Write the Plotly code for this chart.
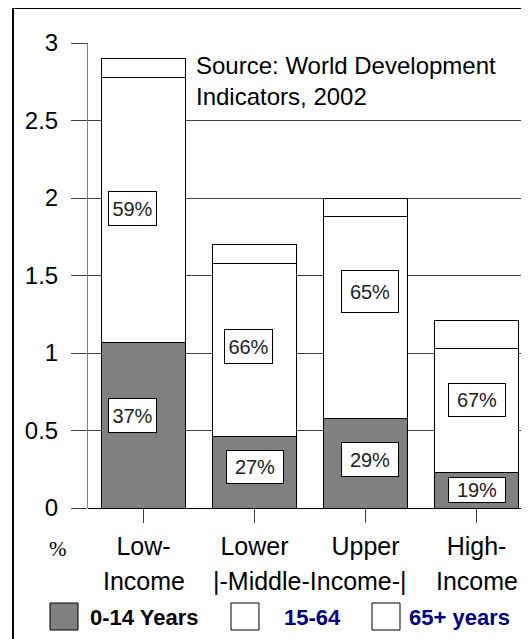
import plotly.graph_objects as go

# ---- data ----
categories = ["Low-Income", "Lower-Middle-Income", "Upper-Middle-Income", "High-Income"]
tick_line1 = ["Low-", "Lower", "Upper", "High-"]
tick_line2 = ["Income", "", "", "Income"]
age_0_14 = [1.07, 0.46, 0.58, 0.23]
age_15_64 = [1.71, 1.12, 1.30, 0.80]
age_65 = [0.12, 0.12, 0.12, 0.18]
share_0_14 = ["37%", "27%", "29%", "19%"]
share_15_64 = ["59%", "66%", "65%", "67%"]
y_ticks = [0, 0.5, 1, 1.5, 2, 2.5, 3]
y_tick_text = ["0", "0.5", "1", "1.5", "2", "2.5", "3"]
source_lines = ["Source: World Development", "Indicators, 2002"]

# label box layout (positions in data units, sizes in px)
lab15_pos = [(-0.10, 1.93, 49, 35), (0.95, 1.04, 49, 35), (2.04, 1.40, 58, 43), (3.0, 0.70, 58, 34)]
lab014_pos = [(-0.10, 0.60, 49, 35), (1.0, 0.265, 58, 34), (2.04, 0.31, 58, 35), (3.0, 0.115, 58, 26)]

OFF = 8  # page body margin
W, H = 529 - OFF, 639 - OFF
L, T = 88 - OFF, 43 - OFF
B = H - (508 - OFF)
R = 0
pw, ph = W - L - R, H - T - B

def px(x):
    return (x - OFF - L) / pw

def py(y):
    return (H - B - (y - OFF)) / ph

xs = list(range(len(categories)))
fig = go.Figure()
common = dict(width=0.76, marker_line_color="black", marker_line_width=1, showlegend=False)
fig.add_trace(go.Bar(x=xs, y=age_0_14, name="0-14 Years", marker_color="#808080", **common))
fig.add_trace(go.Bar(x=xs, y=age_15_64, name="15-64", marker_color="white", **common))
fig.add_trace(go.Bar(x=xs, y=age_65, name="65+ years", marker_color="white", **common))

ann = []
for txt, (x, y, w, h) in zip(share_15_64 + share_0_14, lab15_pos + lab014_pos):
    ann.append(dict(x=x, y=y, xref="x", yref="y", text=txt, showarrow=False,
                    font=dict(family="Arial", size=20, color="#222"),
                    bgcolor="white", bordercolor="black", borderwidth=1,
                    width=w - 2, height=h - 2, borderpad=0))

# second lines of x labels
for x, t in zip(xs, tick_line2):
    if t:
        ann.append(dict(x=x, y=py(581), xref="x", yref="paper", text=t, showarrow=False,
                        font=dict(family="Arial", size=25, color="black"), yanchor="middle"))
ann.append(dict(x=1.5, y=py(581), xref="x", yref="paper", text="|-Middle-Income-|", showarrow=False,
                font=dict(family="Arial", size=25, color="black"), yanchor="middle"))
ann.append(dict(x=px(58), y=py(549), xref="paper", yref="paper", text="%", showarrow=False,
                font=dict(family="Times New Roman, Liberation Serif", size=21, color="black"),
                yanchor="middle", xanchor="center"))

# source note
ann.append(dict(x=px(194), y=py(50), xref="paper", yref="paper", text="<br>".join(source_lines),
                showarrow=False, align="left",
                font=dict(family="Arial", size=24, color="black"), xanchor="left", yanchor="top"))

# legend (drawn)
shapes = []
leg = [("0-14 Years", "#808080", "black", 50, 88),
       ("15-64", "white", "#000080", 231, 282),
       ("65+ years", "white", "#000080", 372, 407)]
for name, fill, tcol, sx, tx in leg:
    shapes.append(dict(type="rect", xref="paper", yref="paper", x0=px(sx), x1=px(sx + 28),
                       y0=py(630), y1=py(603), fillcolor=fill, line=dict(color="black", width=1)))
    ann.append(dict(x=px(tx), y=py(617), xref="paper", yref="paper", text="<b>%s</b>" % name,
                    showarrow=False, xanchor="left", yanchor="middle",
                    font=dict(family="Arial", size=22, color=tcol)))

# outer frame
shapes.append(dict(type="rect", xref="paper", yref="paper", x0=px(13), x1=px(560),
                   y0=py(700), y1=py(8), line=dict(color="black", width=2), layer="below"))

fig.update_layout(
    barmode="stack",
    width=W, height=H,
    margin=dict(l=L, r=R, t=T, b=B, pad=0),
    paper_bgcolor="white", plot_bgcolor="white",
    annotations=ann, shapes=shapes,
    xaxis=dict(range=[-0.5, 3.473], tickmode="array", tickvals=xs, ticktext=tick_line1,
               ticks="outside", ticklen=14, tickcolor="#404040", tickwidth=1,
               tickfont=dict(family="Arial", size=25, color="black"),
               ticklabelstandoff=2, showgrid=False, zeroline=False, showline=False),
    yaxis=dict(range=[0, 3], tickmode="array", tickvals=y_ticks, ticktext=y_tick_text,
               ticks="outside", ticklen=16, tickcolor="#404040", tickwidth=1,
               tickfont=dict(family="Arial", size=24, color="black"),
               ticklabelstandoff=8,
               showgrid=True, gridcolor="#404040", gridwidth=1,
               zeroline=True, zerolinecolor="black", zerolinewidth=1,
               showline=True, linecolor="#808080", linewidth=1),
)

fig.write_html("out.html")
